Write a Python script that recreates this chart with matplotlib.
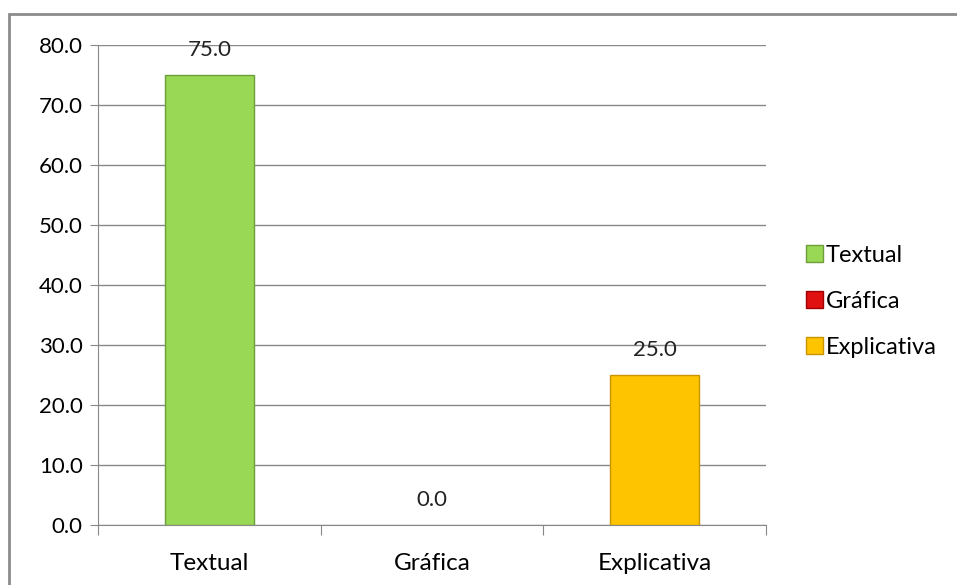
import matplotlib
matplotlib.use('Agg')
import matplotlib.pyplot as plt
from matplotlib.patches import Rectangle, Patch

categories = ['Textual', 'Gráfica', 'Explicativa']
values = [75.0, 0.0, 25.0]
colors = ['#99D854', '#E01010', '#FFC400']
edges = ['#6E9E3A', '#A00000', '#C89400']
yticks = [0, 10, 20, 30, 40, 50, 60, 70, 80]

plt.rcParams['font.family'] = ['Lato', 'DejaVu Sans']

fig = plt.figure(figsize=(9.57, 5.85), dpi=100)
ax = fig.add_axes([0.1024, 0.1026, 0.698, 0.8205])

# chart border
fig.patches.append(Rectangle((9 / 957, -0.05), 1.1, 1 - 14 / 585 + 0.05,
                             transform=fig.transFigure, fill=False,
                             edgecolor='#8c8c8c', linewidth=2))

x = range(len(categories))
bars = ax.bar(x, values, width=0.4, color=colors, edgecolor=edges, linewidth=1, zorder=3)
for b, v in zip(bars, values):
    if v == 0:
        b.set_linewidth(0)

for xi, v in zip(x, values):
    ax.annotate(f'{v:.1f}', (xi, v), xytext=(0, 11), textcoords='offset points',
                ha='center', va='bottom', fontsize=16, color='#222222')

ax.set_xlim(-0.5, 2.5)
ax.set_ylim(0, 80)
ax.set_yticks(yticks)
ax.set_yticklabels([f'{t:.1f}' for t in yticks], fontsize=16)
ax.set_xticks([-0.5, 0.5, 1.5, 2.5])
ax.set_xticklabels([])
ax.set_xticks(list(x), minor=True)
ax.set_xticklabels(categories, minor=True, fontsize=17.5)
ax.tick_params(axis='x', which='minor', length=0, pad=20)
ax.tick_params(axis='x', which='major', length=7, color='#888888')
ax.tick_params(axis='y', length=6, color='#888888', pad=5)
ax.grid(axis='y', color='#888888', linewidth=1, zorder=0)
for s in ['top', 'right']:
    ax.spines[s].set_visible(False)
for s in ['left', 'bottom']:
    ax.spines[s].set_color('#888888')

handles = [Patch(facecolor=c, edgecolor=e) for c, e in zip(colors, edges)]
fig.legend(handles, categories, loc='center left', bbox_to_anchor=(0.82, 0.485),
           frameon=False, fontsize=17, handlelength=0.7, handleheight=0.7,
           handletextpad=0.15, labelspacing=1.05)

fig.savefig('out.png', dpi=100)
